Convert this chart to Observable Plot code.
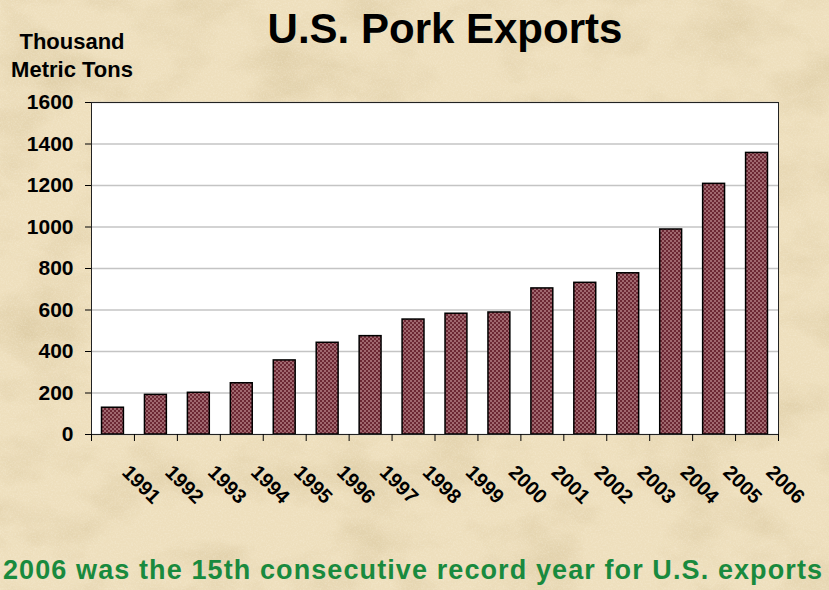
<!DOCTYPE html>
<html><head><meta charset="utf-8">
<script src="https://cdn.jsdelivr.net/npm/d3@7"></script>
<script src="https://cdn.jsdelivr.net/npm/@observablehq/plot@0.6"></script>
<style>
body{margin:0;}
#wrap{position:relative;width:829px;height:590px;overflow:hidden;font-family:"Liberation Sans",Arial,sans-serif;background:#efe2c3;}
#bg{position:absolute;left:0;top:0;}
#chart{position:absolute;left:0;top:0;}
#title{position:absolute;left:0;width:890px;text-align:center;top:8px;font-size:42px;font-weight:bold;line-height:42px;color:#000;}
#ylab{position:absolute;left:0;width:144px;text-align:center;top:28px;font-size:22px;font-weight:bold;line-height:28px;color:#000;}
#caption{position:absolute;left:3px;top:557px;font-size:27px;font-weight:bold;line-height:27px;letter-spacing:1.1px;color:#198a3e;white-space:nowrap;}
</style></head>
<body>
<div id="wrap">
<svg id="bg" width="829" height="590">
 <filter id="paper" x="0" y="0" width="100%" height="100%">
  <feTurbulence type="fractalNoise" baseFrequency="0.012 0.02" numOctaves="5" seed="3" result="n"/>
  <feColorMatrix in="n" type="matrix" values="0 0 0 0 0.62  0 0 0 0 0.5  0 0 0 0 0.28  1.6 0 0 0 -0.7"/>
 </filter>
 <filter id="grain" x="0" y="0" width="100%" height="100%">
  <feTurbulence type="fractalNoise" baseFrequency="0.6" numOctaves="2" seed="7" result="g"/>
  <feColorMatrix in="g" type="matrix" values="0 0 0 0 1  0 0 0 0 0.97  0 0 0 0 0.88  1.4 0 0 0 -0.6"/>
 </filter>
 <rect width="829" height="590" fill="#eedfbd"/>
 <rect width="829" height="590" filter="url(#paper)" opacity="0.6"/>
 <rect width="829" height="590" filter="url(#grain)" opacity="0.35"/>
</svg>
<div id="chart"></div>
<div id="title">U.S. Pork Exports</div>
<div id="ylab">Thousand<br>Metric Tons</div>
<div id="caption">2006 was the 15th consecutive record year for U.S. exports</div>
</div>
<script>
const years = ["1991","1992","1993","1994","1995","1996","1997","1998","1999","2000","2001","2002","2003","2004","2005","2006"];
const exportsKMT = [129,191,201,247,357,442,474,554,582,588,704,731,777,988,1208,1357];
const yTicks = [0,200,400,600,800,1000,1200,1400,1600];

const data = years.map((y, i) => ({year: y, value: exportsKMT[i]}));
const W = 829, H = 520, mL = 91, mR = 51, mT = 102, mB = 86;
const step = (W - mL - mR) / years.length;
const inset = step * 0.245;

const chart = Plot.plot({
  width: W, height: H,
  marginLeft: mL, marginRight: mR, marginTop: mT, marginBottom: mB,
  style: {background: "transparent", fontFamily: "'Liberation Sans', Arial, sans-serif", fontWeight: "bold", color: "#000", overflow: "visible"},
  x: {domain: years, padding: 0, round: false, axis: null},
  y: {domain: [0, 1600], axis: null},
  marks: [
    Plot.frame({fill: "white", stroke: "none"}),
    Plot.gridY(yTicks, {stroke: "#c4c4c4", strokeOpacity: 1, strokeWidth: 1.5}),
    Plot.barY(data, {x: "year", y: "value", fill: "url(#hatch)", stroke: "#000", strokeWidth: 1.5, insetLeft: inset, insetRight: inset}),
    Plot.frame({stroke: "#222", strokeWidth: 1}),
    Plot.axisY(yTicks, {tickSize: 6, tickPadding: 12, fontSize: 21, fontWeight: "bold", label: null, tickFormat: d => String(d), stroke: "#000"}),
    Plot.axisX({text: null, tickSize: 7, dx: -step / 2, stroke: "#000", label: null}),
    Plot.axisX([years[years.length - 1]], {text: null, tickSize: 7, dx: step / 2, stroke: "#000", label: null}),
    Plot.axisX({tickSize: 0, tickPadding: 39, tickRotate: 45, textAnchor: "start", lineAnchor: "bottom", dx: 8, fontSize: 20, fontWeight: "bold", label: null})
  ]
});

const defs = d3.select(chart).insert("defs", ":first-child");
const pat = defs.append("pattern").attr("id", "hatch").attr("width", 4).attr("height", 4).attr("patternUnits", "userSpaceOnUse");
pat.append("rect").attr("width", 4).attr("height", 4).attr("fill", "#a0686f");
pat.append("rect").attr("width", 2).attr("height", 2).attr("fill", "#6c2834");
pat.append("rect").attr("x", 2).attr("y", 2).attr("width", 2).attr("height", 2).attr("fill", "#6c2834");

document.getElementById("chart").appendChild(chart);
</script>
</body></html>
